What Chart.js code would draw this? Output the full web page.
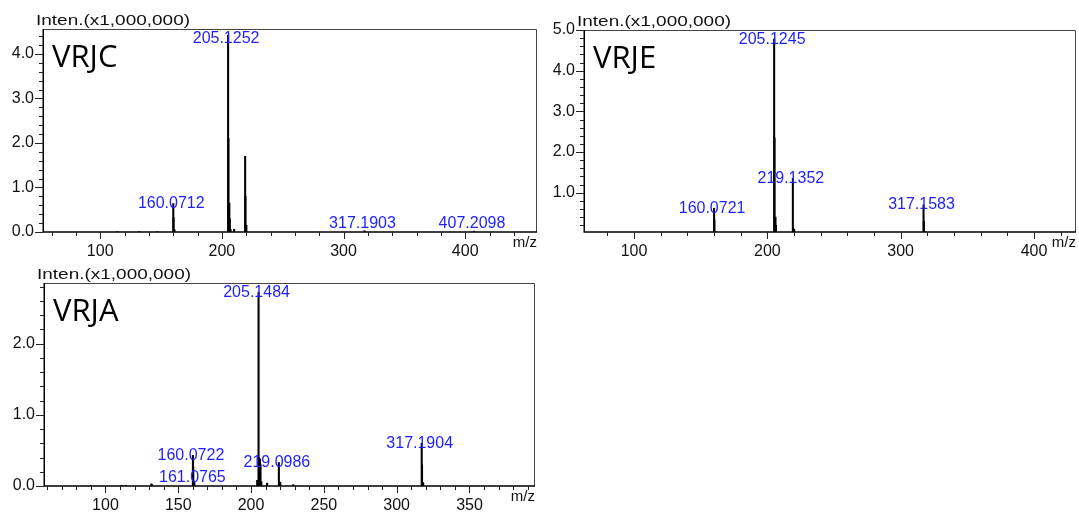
<!DOCTYPE html>
<html><head><meta charset="utf-8">
<script src="https://cdn.jsdelivr.net/npm/chart.js@4/dist/chart.umd.min.js"></script>
<style>
html,body{margin:0;padding:0;background:#fff;}
body{width:1079px;height:513px;position:relative;overflow:hidden;}
.p{position:absolute;}
canvas{display:block;}
</style></head><body>
<div class="p" style="left:0;top:0"><canvas id="c1" width="545" height="258"></canvas></div>
<div class="p" style="left:545px;top:0"><canvas id="c2" width="534" height="258"></canvas></div>
<div class="p" style="left:0;top:258px"><canvas id="c3" width="545" height="255"></canvas></div>
<script>
// ---------- data (intensity in x1,000,000) ----------
const vrjcMz    = [114, 132, 147, 160.07, 160.3, 161.07, 205.13, 205.4, 206.13, 206.5, 207.1, 210.1, 219.14, 219.4, 220.14, 317.19, 407.21];
const vrjcInten = [0.01, 0.01, 0.01, 0.64, 0.33, 0.05, 4.42, 2.1, 0.65, 0.3, 0.06, 0.06, 1.7, 0.8, 0.15, 0.03, 0.02];
const vrjcPeakLabels = ['160.0712', '205.1252', '317.1903', '407.2098'];
const vrjcXTicks = [100, 200, 300, 400];
const vrjcYTicks = [0, 1, 2, 3, 4];

const vrjeMz    = [160.07, 160.3, 161.07, 205.12, 205.4, 206.12, 206.5, 219.14, 219.4, 220.14, 317.16, 317.4, 318.16];
const vrjeInten = [0.62, 0.33, 0.03, 4.78, 2.35, 0.4, 0.2, 1.35, 0.12, 0.1, 0.7, 0.3, 0.04];
const vrjePeakLabels = ['160.0721', '205.1245', '219.1352', '317.1583'];
const vrjeXTicks = [100, 200, 300, 400];
const vrjeYTicks = [1, 2, 3, 4, 5];

const vrjaMz    = [90, 111, 114, 131.5, 132, 160.07, 160.3, 161.08, 204.2, 205.15, 205.4, 206.15, 206.5, 207.1, 211, 219.1, 219.4, 220.1, 229, 317.19, 317.4, 318.2];
const vrjaInten = [0.01, 0.01, 0.01, 0.03, 0.02, 0.43, 0.27, 0.05, 0.08, 2.72, 0.4, 0.38, 0.3, 0.06, 0.04, 0.33, 0.06, 0.05, 0.02, 0.6, 0.3, 0.05];
const vrjaPeakLabels = ['160.0722', '161.0765', '205.1484', '219.0986', '317.1904'];
const vrjaXTicks = [100, 150, 200, 250, 300, 350];
const vrjaYTicks = [0, 1, 2];

// ---------- drawing helpers ----------
const FONT = '"Liberation Sans", Arial, sans-serif';

const decor = {
  id: 'decor',
  afterDraw(chart, args, o) {
    const {ctx, chartArea: a, scales: {x, y}} = chart;
    ctx.save();
    // frame
    ctx.strokeStyle = '#444';
    ctx.lineWidth = 1;
    ctx.beginPath();
    ctx.moveTo(a.left, a.top + 0.5); ctx.lineTo(a.right - 0.5, a.top + 0.5); ctx.lineTo(a.right - 0.5, a.bottom);
    ctx.stroke();
    // axes
    ctx.strokeStyle = '#000';
    ctx.lineWidth = 1.5;
    ctx.beginPath();
    ctx.moveTo(a.left + 0.25, a.top); ctx.lineTo(a.left + 0.25, a.bottom + 0.75);
    ctx.moveTo(a.left, a.bottom); ctx.lineTo(a.right, a.bottom);
    ctx.stroke();
    // ticks
    ctx.lineWidth = 1;
    ctx.strokeStyle = '#222';
    ctx.beginPath();
    const xs = o.xMinor;
    for (let v = Math.ceil(x.min / xs) * xs; v <= x.max + 1e-9; v += xs) {
      const px = Math.round(x.getPixelForValue(v)) + 0.5;
      const major = o.xTicks.some(t => Math.abs(t - v) < 1e-6);
      ctx.moveTo(px, a.bottom); ctx.lineTo(px, a.bottom + (major ? 7 : 4));
    }
    const ys = o.yMinor;
    for (let v = Math.ceil((y.min - 1e-9) / ys) * ys; v <= y.max + 1e-9; v += ys) {
      const py = Math.round(y.getPixelForValue(v)) + 0.5;
      const major = o.yTicks.some(t => Math.abs(t - v) < 1e-6);
      ctx.moveTo(a.left, py); ctx.lineTo(a.left - (major ? 8 : 4), py);
    }
    ctx.stroke();
    // intensity label
    ctx.fillStyle = '#111';
    ctx.font = '14px ' + FONT;
    ctx.textBaseline = 'alphabetic';
    ctx.textAlign = 'left';
    const t = 'Inten.(x1,000,000)';
    const w = ctx.measureText(t).width;
    ctx.save();
    ctx.translate(a.left - 7, a.top - 4);
    ctx.scale(154 / w, 1);
    ctx.fillText(t, 0, 0);
    ctx.restore();
    // m/z
    ctx.font = '15px ' + FONT;
    ctx.textAlign = 'right';
    ctx.textBaseline = 'middle';
    ctx.fillText('m/z', a.right, a.bottom + 11);
    // panel name
    ctx.font = '31px "Open Sans", sans-serif';
    ctx.textAlign = 'left';
    ctx.fillStyle = '#000';
    ctx.fillText(o.name, a.left + 9, a.top + 29);
    // peak labels
    ctx.font = '16px ' + FONT;
    ctx.fillStyle = '#1e1eff';
    ctx.textAlign = 'center';
    ctx.textBaseline = 'middle';
    const ds = chart.data.datasets[0].data;
    o.peaks.forEach(lbl => {
      const m = parseFloat(lbl);
      let h = 0;
      ds.forEach(d => { if (Math.abs(d.x - m) < 0.2) h = Math.max(h, d.y); });
      let cy = y.getPixelForValue(h);
      cy = Math.max(cy, a.top + 10);
      cy = Math.min(cy, a.bottom - 8);
      ctx.fillText(lbl, x.getPixelForValue(m) - 2, cy);
    });
    ctx.restore();
  }
};

function makePanel(id, p) {
  return new Chart(document.getElementById(id), {
    type: 'bar',
    data: {
      datasets: [{
        data: p.mz.map((m, i) => ({x: m, y: p.inten[i]})),
        backgroundColor: '#000',
        borderWidth: 0,
        barThickness: 1.4
      }]
    },
    options: {
      responsive: false,
      animation: false,
      events: [],
      layout: {padding: {top: p.padTop, right: p.padRight, left: 0, bottom: 0}},
      plugins: {
        legend: {display: false},
        tooltip: {enabled: false},
        decor: {name: p.name, peaks: p.peaks, xTicks: p.xTicks, yTicks: p.yTicks, xMinor: p.xMinor, yMinor: 0.2}
      },
      scales: {
        x: {
          type: 'linear', min: p.xMin, max: p.xMax, offset: false,
          grid: {display: false, drawTicks: false}, border: {display: false},
          ticks: {padding: 10, color: '#111', font: {family: FONT, size: 16}, maxRotation: 0, autoSkip: false,
                  callback: v => String(v)},
          afterBuildTicks: s => { s.ticks = p.xTicks.map(v => ({value: v})); },
          afterFit: s => { s.height = p.xAxisH; }
        },
        y: {
          type: 'linear', min: p.yMin, max: p.yMax,
          grid: {display: false, drawTicks: false}, border: {display: false},
          ticks: {padding: 9, color: '#111', font: {family: FONT, size: 16},
                  callback: v => v.toFixed(1)},
          afterBuildTicks: s => { s.ticks = p.yTicks.map(v => ({value: v})); },
          afterFit: s => { s.width = p.yAxisW; }
        }
      }
    },
    plugins: [decor]
  });
}

makePanel('c1', {name: 'VRJC', mz: vrjcMz, inten: vrjcInten, peaks: vrjcPeakLabels, xTicks: vrjcXTicks, yTicks: vrjcYTicks,
  xMin: 53, xMax: 459, yMin: 0, yMax: 4.56, xMinor: 20, padTop: 29, padRight: 8, yAxisW: 43, xAxisH: 26});
makePanel('c2', {name: 'VRJE', mz: vrjeMz, inten: vrjeInten, peaks: vrjePeakLabels, xTicks: vrjeXTicks, yTicks: vrjeYTicks,
  xMin: 62.5, xMax: 431.5, yMin: 0.035, yMax: 5.0, xMinor: 20, padTop: 30, padRight: 3, yAxisW: 39, xAxisH: 26});
makePanel('c3', {name: 'VRJA', mz: vrjaMz, inten: vrjaInten, peaks: vrjaPeakLabels, xTicks: vrjaXTicks, yTicks: vrjaYTicks,
  xMin: 57.8, xMax: 395, yMin: 0, yMax: 2.85, xMinor: 10, padTop: 25, padRight: 10, yAxisW: 44, xAxisH: 27});
</script>
</body></html>
